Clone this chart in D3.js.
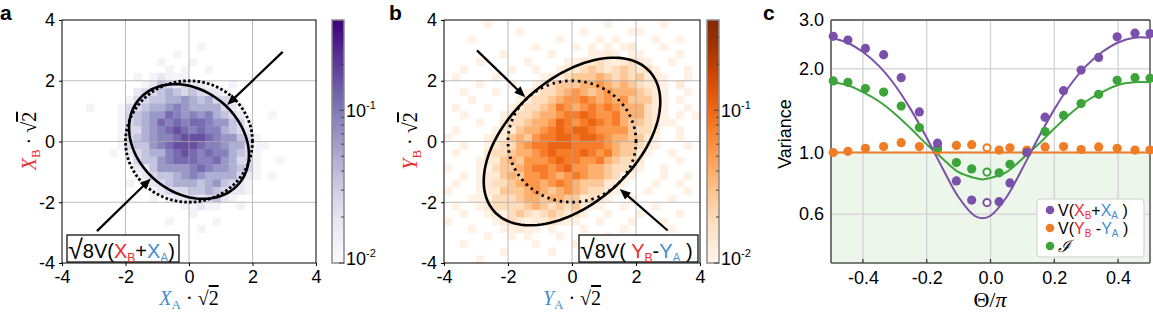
<!DOCTYPE html>
<html>
<head>
<meta charset="utf-8">
<script src="https://cdn.jsdelivr.net/npm/d3@7"></script>
<style>
  body { margin: 0; background: #fff; }
  svg { display: block; font-family: Arial, "Liberation Sans", sans-serif; }
</style>
</head>
<body>
<div id="chart"></div>
<script>
// ---------- data ----------
const histTicks = [-4, -2, 0, 2, 4];
const gridTicks = [-2, 0, 2];
// density value for each digit level used in the histogram rows (0 = empty bin)
const levelValuesA = [0, 0.013, 0.018, 0.025, 0.035, 0.048, 0.066, 0.09, 0.12, 0.16];
const levelValuesB = [0, 0.011, 0.014, 0.019, 0.027, 0.038, 0.055, 0.078, 0.105, 0.13];
const cbarDomain = [0.01, 0.39];
const cbarMajor = [0.01, 0.1];
const cbarMinor = [0.02, 0.03, 0.04, 0.05, 0.06, 0.07, 0.08, 0.09, 0.2, 0.3];

// 32x32 bins over [-4,4]^2, top row = highest value on the vertical axis
const histA = [
  "00000000000000000000000000000000",
  "00000000000000000000000000000000",
  "00000000000000000000000000000000",
  "00000000000000000100000000000000",
  "00000000000000100000000000000000",
  "00000000000010001000000000000000",
  "00000000000001010010000000000000",
  "00000000010121110000000000000000",
  "00000000001243232210010000000000",
  "00000000023345434322100000000000",
  "00000000133445565453310000000000",
  "00010001334556765555321000000000",
  "00000001345668767675432000100000",
  "00000001345687878876643100000000",
  "00000001335678987877543200000000",
  "00000001345677899987664310000000",
  "00000001344678999877655311000000",
  "00000010234557898787754310000000",
  "00000000134467888778653310010000",
  "00000000022466667876654310000000",
  "00000000012344567655553210100000",
  "00000000101234555456432100000000",
  "00000000000123334454322100000000",
  "00000000000101223234210000000000",
  "00000000000000011211001000000000",
  "00000000000000001000000000000000",
  "00000000000001000001000000000000",
  "00000000000000000100000000000000",
  "00000000000000000000000000000000",
  "00000000000000000000000000000000",
  "00000000000000000000000000000000",
  "00000000000000000000000000000000"
];
const histB = [
  "00000100000000000000100000010000",
  "00000000010000000100000110000000",
  "00010000000000100001010000100100",
  "00000000000100001010101200010000",
  "00000001000001000011210110000100",
  "00001000001000011223212321001000",
  "00100000100100122343234323100010",
  "01000010000012134445434342210010",
  "00001000100123444556545432210200",
  "00100010001233456545655543210010",
  "00010000012334566765656444210100",
  "01000100123345765676765553210010",
  "00100001233455677876675553210101",
  "00001002334556876787675443211000",
  "01000012245567878876666433200100",
  "10000122454677887887655442100100",
  "00100123356778887777654432100010",
  "01000233455678777876754421001000",
  "00001224546667877667543320000100",
  "10001134456776786655433210010000",
  "00101224546676567655431100010010",
  "01001233456656765444221000100100",
  "10001224445654565433210001000010",
  "00011133345545544232100100001000",
  "01001233334543434211001000100000",
  "00100121343234323100100010000100",
  "10000012321223211001000100010000",
  "00010001121101000100001000001000",
  "00000100101000100000100000000000",
  "00100000000100001000000001000000",
  "00000001000001000000001000000000",
  "00001000000000000010000000000000"
];

// ellipses: [semi-axis 1, semi-axis 2, rotation in degrees]
const vacuumCircle = [2, 2, 0];
const ellipseA = [2.1, 1.65, -45];
const ellipseB = [3.35, 2.0, 45];
// arrows: [from, to] in data units
const arrowsA = [[[2.95, 2.95], [1.2, 1.2]], [[-2.9, -2.95], [-1.2, -1.22]]];
const arrowsB = [[[-2.97, 3.0], [-1.46, 1.46]], [[2.99, -2.93], [1.49, -1.56]]];

// panel c
const thetaTicks = [-0.4, -0.2, 0, 0.2, 0.4];
const varTicks = [0.6, 1.0, 2.0, 3.0];
const theta = [-0.493, -0.447, -0.392, -0.335, -0.280, -0.223, -0.166, -0.107, -0.059, -0.011,
               0.027, 0.061, 0.114, 0.171, 0.229, 0.284, 0.339, 0.397, 0.453, 0.500];
const varSum = [2.62, 2.54, 2.37, 2.25, 1.86, 1.40, 1.08, 0.79, 0.674, 0.66,
                0.665, 0.777, 1.00, 1.34, 1.67, 1.98, 2.20, 2.61, 2.69, 2.68];
const varDiff = [1.00, 1.01, 1.035, 1.05, 1.085, 1.05, 1.02, 1.06, 1.067, 1.04,
                 1.02, 1.04, 1.02, 1.047, 1.05, 1.025, 1.047, 1.035, 1.02, 1.02];
const varI = [1.81, 1.79, 1.70, 1.65, 1.47, 1.23, 1.04, 0.92, 0.873, 0.85,
              0.845, 0.907, 1.00, 1.19, 1.36, 1.50, 1.62, 1.82, 1.86, 1.85];
const openPoint = 9;
const fitTheta = [-0.5, -0.45, -0.4, -0.35, -0.3, -0.25, -0.2, -0.15, -0.1, -0.05, -0.025,
                  0, 0.05, 0.1, 0.15, 0.2, 0.25, 0.3, 0.35, 0.4, 0.45, 0.5];
const fitSum = [2.59, 2.49, 2.30, 2.05, 1.75, 1.43, 1.13, 0.876, 0.69, 0.592, 0.58,
                0.592, 0.69, 0.876, 1.13, 1.43, 1.75, 2.05, 2.30, 2.49, 2.59, 2.59];
const fitI = [1.79, 1.75, 1.65, 1.53, 1.38, 1.22, 1.07, 0.95, 0.85, 0.81, 0.80,
              0.81, 0.85, 0.95, 1.07, 1.22, 1.38, 1.53, 1.65, 1.75, 1.79, 1.79];
const fitDiffTheta = [-0.5, 0.5];
const fitDiff = [1.0, 1.0];

// ---------- drawing ----------
const W = 1153, H = 313;
const plotTop = 20, plotBottom = 263;
const RED = '#ef2b2f', BLUE = '#3f8fd0';
const PURPLE = '#7b50aa', ORANGE = '#f07d26', GREEN = '#3ca43a';
const serif = '"Liberation Serif", "Times New Roman", serif';

const svg = d3.select('#chart').append('svg').attr('width', W).attr('height', H);
const defs = svg.append('defs');

function addRuns(text, runs) {
  runs.forEach(r => {
    const t = text.append('tspan').text(r.t);
    if (r.fill) t.attr('fill', r.fill);
    if (r.size) t.attr('font-size', r.size);
    if (r.italic) t.attr('font-style', 'italic');
    if (r.dy) t.attr('dy', r.dy);
    if (r.family) t.attr('font-family', r.family);
    if (r.deco) t.attr('text-decoration', r.deco);
  });
  return text;
}

function ellipsePts(e) {
  const rot = e[2] * Math.PI / 180;
  return d3.range(0, 361, 3).map(deg => {
    const t = deg * Math.PI / 180;
    const u = e[0] * Math.cos(t), v = e[1] * Math.sin(t);
    return [u * Math.cos(rot) - v * Math.sin(rot), u * Math.sin(rot) + v * Math.cos(rot)];
  });
}

function histPanel(o) {
  const g = svg.append('g');
  const x = d3.scaleLinear().domain([-4, 4]).range([o.left, o.right]);
  const y = d3.scaleLinear().domain([-4, 4]).range([plotBottom, plotTop]);
  const color = d3.scaleSequentialLog(o.interp).domain(cbarDomain);

  // histogram bins
  const col = d3.scaleBand().domain(d3.range(o.rows[0].length)).range([o.left, o.right]);
  const row = d3.scaleBand().domain(d3.range(o.rows.length)).range([plotTop, plotBottom]);
  const cells = [];
  o.rows.forEach((s, r) => s.split('').forEach((ch, c) => {
    if (+ch > 0) cells.push({ r, c, v: o.levels[+ch] });
  }));
  g.append('g').selectAll('rect').data(cells).join('rect')
    .attr('x', d => col(d.c)).attr('y', d => row(d.r))
    .attr('width', col.bandwidth() + 0.4).attr('height', row.bandwidth() + 0.4)
    .attr('fill', d => color(d.v));

  // grid
  const grid = g.append('g').attr('stroke', '#a8a8a8').attr('stroke-width', 1).attr('opacity', 0.75);
  grid.selectAll('line.v').data(gridTicks).join('line').attr('class', 'v')
    .attr('x1', d => x(d)).attr('x2', d => x(d)).attr('y1', plotTop).attr('y2', plotBottom);
  grid.selectAll('line.h').data(gridTicks).join('line').attr('class', 'h')
    .attr('y1', d => y(d)).attr('y2', d => y(d)).attr('x1', o.left).attr('x2', o.right);

  // ellipses
  const line = d3.line().x(d => x(d[0])).y(d => y(d[1]));
  g.append('path').attr('d', line(ellipsePts(vacuumCircle)))
    .attr('fill', 'none').attr('stroke', '#000').attr('stroke-width', 2.8)
    .attr('stroke-dasharray', o.dash);
  g.append('path').attr('d', line(ellipsePts(o.ellipse)))
    .attr('fill', 'none').attr('stroke', '#000').attr('stroke-width', 2.6);

  // arrows
  o.arrows.forEach(a => {
    const sx = x(a[0][0]), sy = y(a[0][1]), tx = x(a[1][0]), ty = y(a[1][1]);
    const len = Math.hypot(tx - sx, ty - sy);
    const ux = (tx - sx) / len, uy = (ty - sy) / len;
    const bx = tx - ux * 11, by = ty - uy * 11;
    g.append('line').attr('x1', sx).attr('y1', sy).attr('x2', bx + ux).attr('y2', by + uy)
      .attr('stroke', '#000').attr('stroke-width', 2.2);
    g.append('path')
      .attr('d', `M${tx},${ty}L${bx - uy * 4.5},${by + ux * 4.5}L${bx + uy * 4.5},${by - ux * 4.5}Z`)
      .attr('fill', '#000');
  });

  // annotation box (its top edge doubles as the radical's bar)
  g.append('rect').attr('x', o.boxX).attr('y', 235).attr('width', o.boxW).attr('height', 27)
    .attr('fill', '#fff').attr('stroke', '#000').attr('stroke-width', 1.2);
  addRuns(g.append('text').attr('x', o.boxX + 1).attr('y', 258).attr('font-size', 20), o.boxRuns);

  // frame
  g.append('rect').attr('x', o.left).attr('y', plotTop)
    .attr('width', o.right - o.left).attr('height', plotBottom - plotTop)
    .attr('fill', 'none').attr('stroke', '#000').attr('stroke-width', 1);

  // axes
  const yAxis = g.append('g').attr('transform', `translate(${o.left},0)`)
    .call(d3.axisLeft(y).tickValues(histTicks).tickFormat(d => String(d)).tickSize(3).tickPadding(4));
  const xAxis = g.append('g').attr('transform', `translate(0,${plotBottom})`)
    .call(d3.axisBottom(x).tickValues(histTicks).tickFormat(d => String(d)).tickSize(3).tickPadding(4));
  [xAxis, yAxis].forEach(ax => {
    ax.select('.domain').remove();
    ax.attr('font-size', 18).attr('font-family', 'Arial, "Liberation Sans", sans-serif');
    ax.selectAll('text').attr('fill', '#000');
  });

  // colorbar
  const gradId = 'grad' + o.letter;
  const grad = defs.append('linearGradient').attr('id', gradId)
    .attr('x1', 0).attr('y1', 1).attr('x2', 0).attr('y2', 0);
  d3.range(0, 1.001, 0.05).forEach(t => grad.append('stop').attr('offset', t).attr('stop-color', o.interp(t)));
  g.append('rect').attr('x', o.cbLeft).attr('y', plotTop)
    .attr('width', o.cbRight - o.cbLeft).attr('height', plotBottom - plotTop)
    .attr('fill', `url(#${gradId})`).attr('stroke', '#8a8a8a').attr('stroke-width', 1.5);
  const cy = d3.scaleLog().domain(cbarDomain).range([plotBottom, plotTop]);
  g.append('g').selectAll('line').data(cbarMinor).join('line')
    .attr('x1', o.cbRight - 3).attr('x2', o.cbRight).attr('y1', d => cy(d)).attr('y2', d => cy(d))
    .attr('stroke', '#444').attr('stroke-width', 1);
  g.append('g').selectAll('line').data(cbarMajor).join('line')
    .attr('x1', o.cbRight - 5).attr('x2', o.cbRight).attr('y1', d => cy(d)).attr('y2', d => cy(d))
    .attr('stroke', '#444').attr('stroke-width', 1);
  cbarMajor.forEach(v => {
    const exp = Math.round(Math.log10(v));
    const yy = v === cbarDomain[0] ? cy(v) - 5 : cy(v);
    addRuns(g.append('text').attr('x', o.cbRight + 2).attr('y', yy + 7).attr('font-size', 18),
      [{ t: '10' }, { t: String(exp), size: 11, dy: -8 }]);
  });

  // axis titles
  const mid = (o.left + o.right) / 2;
  addRuns(g.append('text').attr('x', mid).attr('y', 305).attr('text-anchor', 'middle')
    .attr('font-family', serif).attr('font-size', 20), o.xRuns);
  addRuns(g.append('text').attr('transform', `translate(${o.yLabelX},141) rotate(-90)`)
    .attr('text-anchor', 'middle').attr('font-family', serif).attr('font-size', 20), o.yRuns);

  // panel letter
  g.append('text').attr('x', o.letterX).attr('y', 20).attr('font-size', 21)
    .attr('font-weight', 'bold').text(o.letter);
}

const sub = (t, fill) => ({ t, fill, size: 12, dy: 4 });
const radical = { t: '√', size: 27, dy: 1 };
histPanel({
  letter: 'a', letterX: 0, left: 62, right: 316, cbLeft: 332, cbRight: 344,
  rows: histA, levels: levelValuesA, interp: d3.interpolatePurples, ellipse: ellipseA, arrows: arrowsA,
  dash: '2.6,2.2', boxX: 67, boxW: 112,
  boxRuns: [radical, { t: '8V(', dy: -1 }, { t: 'X', fill: RED }, sub('B', RED),
            { t: '+', dy: -4 }, { t: 'X', fill: BLUE }, sub('A', BLUE), { t: ')', dy: -4 }],
  xRuns: [{ t: 'X', italic: true, fill: BLUE }, { t: 'A', size: 13, dy: 4, fill: BLUE },
          { t: ' · ', dy: -4 }, { t: '√' }, { t: '2', deco: 'overline' }],
  yRuns: [{ t: 'X', italic: true, fill: RED }, { t: 'B', size: 13, dy: 4, fill: RED },
          { t: ' · ', dy: -4 }, { t: '√' }, { t: '2', deco: 'overline' }],
  yLabelX: 36
});
histPanel({
  letter: 'b', letterX: 389, left: 444, right: 700, cbLeft: 707, cbRight: 719,
  rows: histB, levels: levelValuesB, interp: d3.interpolateOranges, ellipse: ellipseB, arrows: arrowsB,
  dash: '2.4,4', boxX: 579, boxW: 119,
  boxRuns: [radical, { t: '8V( ', dy: -1 }, { t: 'Y', fill: RED }, sub('B', RED),
            { t: '-', dy: -4 }, { t: 'Y', fill: BLUE }, sub('A', BLUE), { t: ' )', dy: -4 }],
  xRuns: [{ t: 'Y', italic: true, fill: BLUE }, { t: 'A', size: 13, dy: 4, fill: BLUE },
          { t: ' · ', dy: -4 }, { t: '√' }, { t: '2', deco: 'overline' }],
  yRuns: [{ t: 'Y', italic: true, fill: RED }, { t: 'B', size: 13, dy: 4, fill: RED },
          { t: ' · ', dy: -4 }, { t: '√' }, { t: '2', deco: 'overline' }],
  yLabelX: 417
});

// ---------- panel c ----------
const gc = svg.append('g');
const cLeft = 831, cRight = 1150;
const tx = d3.scaleLinear().domain([-0.5, 0.5]).range([cLeft, cRight]);
const vy = d3.scaleLog().domain([0.4, 3.0]).range([plotBottom, plotTop]);

gc.append('rect').attr('x', cLeft).attr('y', vy(1)).attr('width', cRight - cLeft)
  .attr('height', plotBottom - vy(1)).attr('fill', '#edf6ea');
const cgrid = gc.append('g').attr('stroke', '#d2d2d2').attr('stroke-width', 1.3);
cgrid.selectAll('line.v').data(thetaTicks).join('line').attr('class', 'v')
  .attr('x1', d => tx(d)).attr('x2', d => tx(d)).attr('y1', plotTop).attr('y2', plotBottom);
cgrid.selectAll('line.h').data(varTicks).join('line').attr('class', 'h')
  .attr('y1', d => vy(d)).attr('y2', d => vy(d)).attr('x1', cLeft).attr('x2', cRight);

gc.append('line').attr('x1', cLeft).attr('x2', cRight).attr('y1', plotTop).attr('y2', plotTop)
  .attr('stroke', '#000').attr('stroke-width', 1);
gc.append('line').attr('x1', cRight).attr('x2', cRight).attr('y1', plotTop).attr('y2', plotBottom)
  .attr('stroke', '#000').attr('stroke-width', 1);
gc.append('line').attr('x1', cLeft).attr('x2', cLeft).attr('y1', plotTop).attr('y2', plotBottom)
  .attr('stroke', '#555').attr('stroke-width', 1.6);
gc.append('line').attr('x1', cLeft).attr('x2', cRight).attr('y1', plotBottom).attr('y2', plotBottom)
  .attr('stroke', '#555').attr('stroke-width', 1.6);
gc.append('g').selectAll('line').data(thetaTicks).join('line')
  .attr('x1', d => tx(d)).attr('x2', d => tx(d)).attr('y1', plotBottom).attr('y2', plotBottom - 4)
  .attr('stroke', '#333').attr('stroke-width', 1.2);

const cx = gc.append('g').attr('transform', `translate(0,${plotBottom})`)
  .call(d3.axisBottom(tx).tickValues(thetaTicks).tickFormat(d => d.toFixed(1)).tickSize(0).tickPadding(8));
const cyAx = gc.append('g').attr('transform', `translate(${cLeft},0)`)
  .call(d3.axisLeft(vy).tickValues(varTicks).tickFormat(d => d.toFixed(1)).tickSize(0).tickPadding(7));
[cx, cyAx].forEach(ax => {
  ax.select('.domain').remove();
  ax.attr('font-size', 18).attr('font-family', 'Arial, "Liberation Sans", sans-serif');
  ax.selectAll('text').attr('fill', '#000');
});

const fitLine = d3.line().x(d => tx(d[0])).y(d => vy(d[1])).curve(d3.curveCatmullRom);
[[fitDiffTheta, fitDiff, ORANGE], [fitTheta, fitI, GREEN], [fitTheta, fitSum, PURPLE]].forEach(([xs, ys, c]) => {
  gc.append('path').attr('d', fitLine(d3.zip(xs, ys)))
    .attr('fill', 'none').attr('stroke', c).attr('stroke-width', 2);
});

[[varDiff, ORANGE], [varI, GREEN], [varSum, PURPLE]].forEach(([ys, c]) => {
  gc.append('g').selectAll('circle').data(d3.zip(theta, ys)).join('circle')
    .attr('cx', d => tx(d[0])).attr('cy', d => vy(d[1]))
    .attr('r', (d, i) => i === openPoint ? 3.6 : 4.6)
    .attr('fill', (d, i) => i === openPoint ? '#fff' : c)
    .attr('stroke', (d, i) => i === openPoint ? c : 'none')
    .attr('stroke-width', 2);
});

// legend
const lg = gc.append('g');
lg.append('rect').attr('x', 1037).attr('y', 199).attr('width', 107).attr('height', 58).attr('rx', 3)
  .attr('fill', '#fff').attr('stroke', '#cfcfcf').attr('stroke-width', 1);
const lsub = (t, fill) => ({ t, fill, size: 10, dy: 3 });
const legendItems = [
  [PURPLE, [{ t: 'V(' }, { t: 'X', fill: RED }, lsub('B', RED), { t: '+', dy: -3 },
            { t: 'X', fill: BLUE }, lsub('A', BLUE), { t: ' )', dy: -3 }]],
  [ORANGE, [{ t: 'V(' }, { t: 'Y', fill: RED }, lsub('B', RED), { t: ' -', dy: -3 },
            { t: 'Y', fill: BLUE }, lsub('A', BLUE), { t: ' )', dy: -3 }]],
  [GREEN, [{ t: 'ℐ', family: serif, italic: true, size: 17 }]]
];
legendItems.forEach(([c, runs], i) => {
  const yy = 210 + i * 18;
  lg.append('circle').attr('cx', 1050).attr('cy', yy).attr('r', 4.3).attr('fill', c);
  addRuns(lg.append('text').attr('x', 1058).attr('y', yy + 6).attr('font-size', 16), runs);
});

gc.append('text').attr('transform', 'translate(791,134) rotate(-90)').attr('text-anchor', 'middle')
  .attr('font-size', 18).text('Variance');
addRuns(gc.append('text').attr('x', 990).attr('y', 307).attr('text-anchor', 'middle')
  .attr('font-family', serif).attr('font-size', 22),
  [{ t: 'Θ' }, { t: '/' }, { t: 'π', italic: true }]);
gc.append('text').attr('x', 763).attr('y', 20).attr('font-size', 21).attr('font-weight', 'bold').text('c');
</script>
</body>
</html>
